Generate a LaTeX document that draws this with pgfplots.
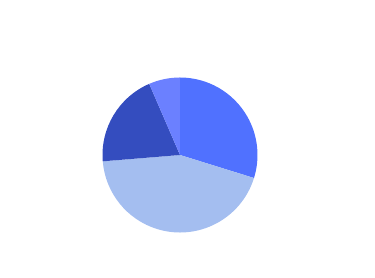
\documentclass[border=0pt]{standalone}
\usepackage{pgfplots}
\usepackage{pgfplotstable}
\pgfplotsset{compat=1.18}
\definecolor{c1}{HTML}{5071FF}
\definecolor{c2}{HTML}{A4BEF0}
\definecolor{c3}{HTML}{344DBF}
\definecolor{c4}{HTML}{6B80FF}
\pgfplotstableread{
label value color
A 29.8 c1
B 43.9 c2
C 19.8 c3
D 6.5 c4
}\piedata
\begin{document}
\begin{tikzpicture}
\begin{axis}[scale only axis, width=10cm, height=7.4133cm,
  xmin=0, xmax=375, ymin=0, ymax=278, hide axis, clip=false]
\path (rel axis cs:0,0) rectangle (rel axis cs:1,1);
\pgfplotsextra{
  \gdef\cur{90}
  \foreach \i in {0,...,3}{
    \pgfplotstablegetelem{\i}{value}\of\piedata \let\v\pgfplotsretval
    \pgfplotstablegetelem{\i}{color}\of\piedata \let\c\pgfplotsretval
    \pgfmathsetmacro\en{\cur-3.6*\v}
    \fill[\c] (axis cs:180,123) -- ++(\cur:2.0667cm) arc[start angle=\cur, end angle=\en, radius=2.0667cm] -- cycle;
    \xdef\cur{\en}
  }
}
\end{axis}
\end{tikzpicture}
\end{document}
